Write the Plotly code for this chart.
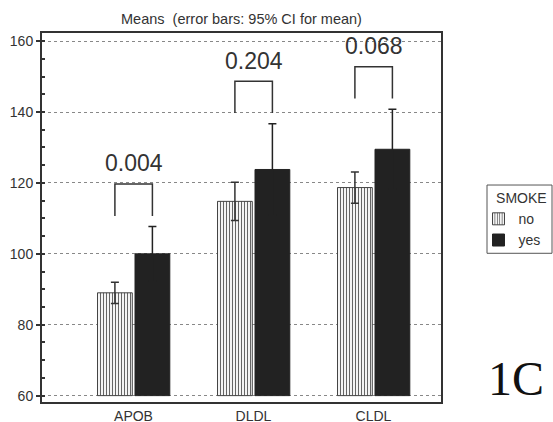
import plotly.graph_objects as go

# ---- data ----
categories = ["APOB", "DLDL", "CLDL"]
no_mean = [89.0, 114.8, 118.7]
no_ci = [3.0, 5.4, 4.4]
yes_mean = [100.0, 123.8, 129.5]
yes_ci = [7.7, 12.9, 11.3]
p_values = ["0.004", "0.204", "0.068"]
y_ticks = [60, 80, 100, 120, 140, 160]
baseline = 60

# ---- styling ----
FONT = "Liberation Sans, Arial, sans-serif"
DARK = "#333333"
idx = list(range(len(categories)))
NO_OFF, YES_OFF, BAR_W = -0.30, 0.0125, 0.29

fig = go.Figure()
fig.add_trace(go.Bar(
    name="no", x=idx, y=[m - baseline for m in no_mean], base=baseline,
    offset=NO_OFF, width=BAR_W,
    marker=dict(color="white", line=dict(color="#444", width=1),
                pattern=dict(shape="|", fgcolor="#555", bgcolor="#f4f4f4",
                             size=3, solidity=0.3, fillmode="replace")),
    error_y=dict(type="data", array=no_ci, color=DARK, thickness=1.5, width=4),
))
fig.add_trace(go.Bar(
    name="yes", x=idx, y=[m - baseline for m in yes_mean], base=baseline,
    offset=YES_OFF, width=BAR_W,
    marker=dict(color="#222222", line=dict(color="#222222", width=1)),
    error_y=dict(type="data", array=yes_ci, color="#222222", thickness=1.5, width=4),
))

# significance brackets
shapes = []
annotations = []
x_no = NO_OFF + BAR_W / 2
x_yes = YES_OFF + BAR_W / 2
for i in idx:
    ci_top = max(no_mean[i] + no_ci[i], yes_mean[i] + yes_ci[i])
    leg = ci_top + 3
    top = leg + 9
    shapes.append(dict(
        type="path", xref="x", yref="y",
        path=f"M {i + x_no},{leg} L {i + x_no},{top} L {i + x_yes},{top} L {i + x_yes},{leg}",
        line=dict(color=DARK, width=1.5),
    ))
    annotations.append(dict(
        x=i, y=top + 5.8, xref="x", yref="y", text=p_values[i], showarrow=False,
        xanchor="center", yanchor="middle", font=dict(family=FONT, size=23, color=DARK),
    ))

# legend frame
shapes.append(dict(
    type="rect", xref="paper", yref="paper",
    x0=1.1153, x1=1.2782, y0=0.403, y1=0.588,
    line=dict(color="#555", width=1),
))

annotations.append(dict(
    x=0.5, y=1.038, xref="paper", yref="paper", showarrow=False,
    text="Means&nbsp; (error bars: 95% CI for mean)",
    xanchor="center", yanchor="middle",
    font=dict(family=FONT, size=14.5, color=DARK),
))
annotations.append(dict(
    x=1.188, y=0.065, xref="paper", yref="paper", showarrow=False,
    text="1C", xanchor="center", yanchor="middle",
    font=dict(family="Liberation Serif, Times New Roman, serif", size=48, color="#111"),
))

fig.update_layout(
    width=553, height=422,
    margin=dict(l=42, r=112, t=33, b=20, autoexpand=False),
    paper_bgcolor="white", plot_bgcolor="white",
    font=dict(family=FONT, size=14, color=DARK),
    showlegend=True,
    legend=dict(
        title=dict(text="&nbsp;&nbsp;&nbsp;&nbsp;SMOKE", font=dict(size=14, color=DARK)),
        x=1.094, y=0.588, xanchor="left", yanchor="top",
        borderwidth=0, bgcolor="rgba(0,0,0,0)",
        font=dict(size=14, color=DARK),
    ),
    shapes=shapes,
    annotations=annotations,
    xaxis=dict(
        range=[-0.7625, 2.5625], tickvals=idx, ticktext=categories,
        showline=True, linecolor=DARK, linewidth=2, mirror=True,
        ticks="", showgrid=False, zeroline=False, automargin=False,
        tickfont=dict(size=14, color=DARK),
    ),
    yaxis=dict(
        range=[58.2, 162.3], tickvals=y_ticks,
        showline=True, linecolor=DARK, linewidth=2, mirror=True,
        ticks="outside", ticklen=4, tickcolor=DARK, tickwidth=1.5,
        showgrid=True, gridcolor="#888", griddash="dot", gridwidth=1,
        zeroline=False, automargin=False,
        minor=dict(dtick=5, tick0=60, ticks="inside", ticklen=3,
                   tickcolor=DARK, showgrid=False),
        tickfont=dict(size=14, color=DARK),
    ),
)

fig.write_html(
    "out.html",
    config={"displayModeBar": False},
    post_script="document.body.style.margin='0';document.body.style.overflow='hidden';",
)
